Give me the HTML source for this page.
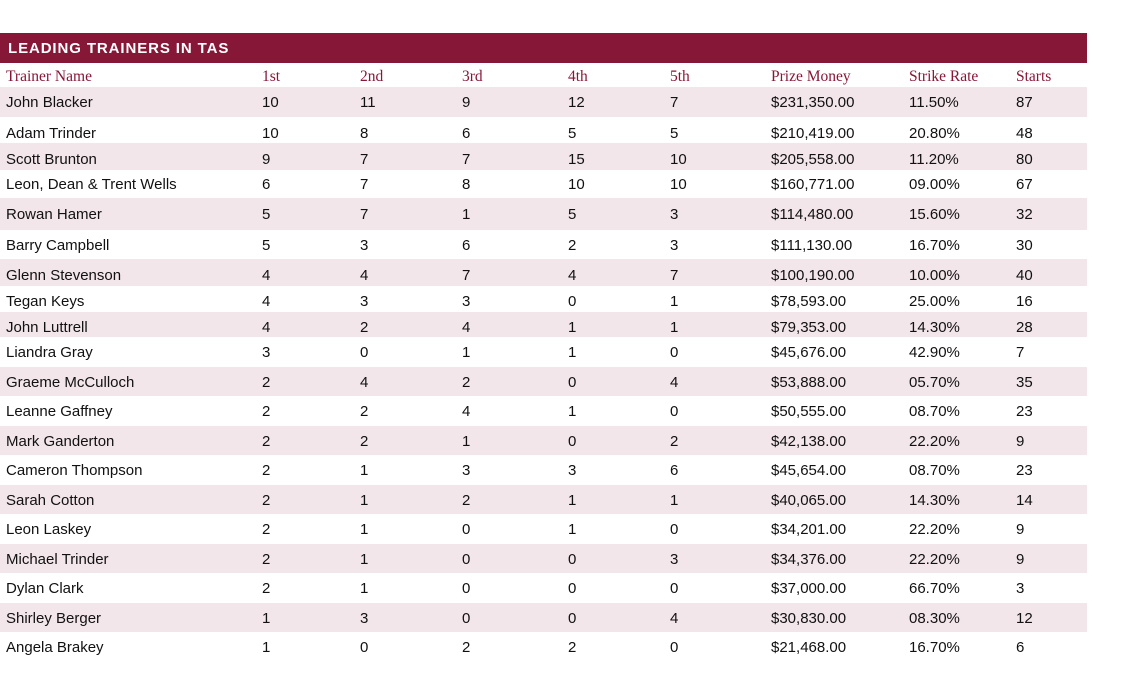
<!DOCTYPE html>
<html><head><meta charset="utf-8"><style>
body{margin:0;width:1131px;height:700px;background:#fff;position:relative;overflow:hidden;font-family:"Liberation Sans",sans-serif;}
.bar{position:absolute;left:0;top:33px;width:1087px;height:30px;background:#861737;}
.title{position:absolute;left:8px;top:34px;line-height:30px;color:#fff;font-weight:bold;font-size:15px;letter-spacing:0.9px;}
.sh{position:absolute;left:0;width:1087px;background:#f2e6ea;}
.t{position:absolute;height:20px;line-height:20px;font-size:15px;color:#111;white-space:nowrap;}
.h{position:absolute;height:20px;line-height:20px;font-size:15.5px;color:#861737;font-family:"Liberation Serif",serif;white-space:nowrap;}
</style></head><body>
<div class="bar"></div><div class="title">LEADING TRAINERS IN TAS</div>
<div class="sh" style="top:87px;height:30px"></div>
<div class="sh" style="top:143px;height:27px"></div>
<div class="sh" style="top:198px;height:32px"></div>
<div class="sh" style="top:259px;height:27px"></div>
<div class="sh" style="top:312px;height:25px"></div>
<div class="sh" style="top:367px;height:29px"></div>
<div class="sh" style="top:426px;height:29px"></div>
<div class="sh" style="top:485px;height:29px"></div>
<div class="sh" style="top:544px;height:29px"></div>
<div class="sh" style="top:603px;height:29px"></div>
<div id="c"></div>
<script>
const xs=[6,262,360,462,568,670,771,909,1016];
const hd=["Trainer Name","1st","2nd","3rd","4th","5th","Prize Money","Strike Rate","Starts"];
const rows=[
[101,"John Blacker",10,11,9,12,7,"$231,350.00","11.50%",87],
[132,"Adam Trinder",10,8,6,5,5,"$210,419.00","20.80%",48],
[158,"Scott Brunton",9,7,7,15,10,"$205,558.00","11.20%",80],
[183,"Leon, Dean &amp; Trent Wells",6,7,8,10,10,"$160,771.00","09.00%",67],
[213,"Rowan Hamer",5,7,1,5,3,"$114,480.00","15.60%",32],
[244,"Barry Campbell",5,3,6,2,3,"$111,130.00","16.70%",30],
[274,"Glenn Stevenson",4,4,7,4,7,"$100,190.00","10.00%",40],
[300,"Tegan Keys",4,3,3,0,1,"$78,593.00","25.00%",16],
[326,"John Luttrell",4,2,4,1,1,"$79,353.00","14.30%",28],
[351,"Liandra Gray",3,0,1,1,0,"$45,676.00","42.90%",7],
[381,"Graeme McCulloch",2,4,2,0,4,"$53,888.00","05.70%",35],
[410,"Leanne Gaffney",2,2,4,1,0,"$50,555.00","08.70%",23],
[440,"Mark Ganderton",2,2,1,0,2,"$42,138.00","22.20%",9],
[469,"Cameron Thompson",2,1,3,3,6,"$45,654.00","08.70%",23],
[499,"Sarah Cotton",2,1,2,1,1,"$40,065.00","14.30%",14],
[528,"Leon Laskey",2,1,0,1,0,"$34,201.00","22.20%",9],
[558,"Michael Trinder",2,1,0,0,3,"$34,376.00","22.20%",9],
[587,"Dylan Clark",2,1,0,0,0,"$37,000.00","66.70%",3],
[617,"Shirley Berger",1,3,0,0,4,"$30,830.00","08.30%",12],
[646,"Angela Brakey",1,0,2,2,0,"$21,468.00","16.70%",6]];
let h="";
hd.forEach((s,i)=>h+=`<div class="h" style="left:${xs[i]}px;top:67px">${s}</div>`);
rows.forEach(r=>{for(let i=0;i<9;i++)h+=`<div class="t" style="left:${xs[i]}px;top:${r[0]-8}px">${r[i+1]}</div>`;});
document.getElementById("c").innerHTML=h;
</script>
</body></html>
